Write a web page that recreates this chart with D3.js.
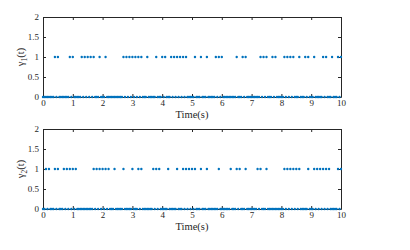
<!DOCTYPE html>
<html>
<head>
<script src="https://cdn.jsdelivr.net/npm/d3@7"></script>
<style>
body { margin: 0; padding: 0; background: #fff; }
text { font-family: "Liberation Serif", "Times New Roman", serif; fill: #262626; }
</style>
</head>
<body>
<svg></svg>
<script>
// sample grid: 0 .. 10 s, one sample every 0.05 s
var tStart = 0, tEnd = 10, sampleCount = 201;

// times (s) at which gamma_i(t) = 1; every other sample is 0
var gamma1Ones = [0.4, 0.5, 0.9, 1.0, 1.3, 1.4, 1.5, 1.6, 1.7, 1.9, 2.1, 2.7, 2.8, 2.9, 3.0,
  3.1, 3.2, 3.3, 3.5, 3.8, 4.0, 4.1, 4.3, 4.4, 4.5, 4.6, 4.7, 4.8, 5.1, 5.3, 5.5, 5.8, 5.9,
  6.0, 6.5, 6.7, 6.8, 7.3, 7.4, 7.5, 7.7, 7.8, 8.1, 8.2, 8.3, 8.4, 8.6, 8.8, 8.9, 9.1, 9.4,
  9.5, 9.7, 9.9, 10.0];
var gamma2Ones = [0.1, 0.2, 0.4, 0.5, 0.7, 0.8, 0.9, 1.0, 1.1, 1.7, 1.8, 1.9, 2.0, 2.1, 2.2,
  2.4, 2.7, 3.0, 3.2, 3.3, 3.7, 3.8, 3.9, 4.2, 4.5, 4.7, 4.8, 4.9, 5.0, 5.1, 5.3, 5.5, 5.9,
  6.3, 6.5, 6.6, 6.8, 7.2, 7.3, 7.5, 8.1, 8.2, 8.3, 8.4, 8.5, 8.6, 8.9, 9.1, 9.2, 9.3, 9.4,
  9.5, 9.6, 9.9, 10.0];

var xTicks = [0, 1, 2, 3, 4, 5, 6, 7, 8, 9, 10];
var yTicks = [0, 0.5, 1, 1.5, 2];
var yLabels = ['1', '2'];

var width = 410, height = 250;
var svg = d3.select('svg').attr('width', width).attr('height', height);

var panels = [
  { top: 17, ones: gamma1Ones, sub: yLabels[0] },
  { top: 129, ones: gamma2Ones, sub: yLabels[1] }
];
var left = 43, right = 341, ph = 80;
var times = d3.range(sampleCount).map(function(i) {
  return +(tStart + i * (tEnd - tStart) / (sampleCount - 1)).toFixed(2);
});

var x = d3.scaleLinear().domain([0, 10]).range([left, right]);

function styleAxis(a) {
  a.select('.domain').attr('stroke', '#262626');
  a.selectAll('line').attr('stroke', '#262626');
  a.selectAll('text').attr('font-size', 9).attr('fill', '#262626')
    .attr('font-family', '"Liberation Serif", serif');
}

panels.forEach(function(p) {
  var y = d3.scaleLinear().domain([0, 2]).range([p.top + ph, p.top]);
  var g = svg.append('g');
  var onesKey = p.ones.map(function(v) { return v.toFixed(2); });
  var pts = times.map(function(t) {
    return { t: t, v: onesKey.indexOf(t.toFixed(2)) > -1 ? 1 : 0 };
  });

  g.append('g')
    .attr('transform', 'translate(0,' + (p.top + ph) + ')')
    .call(d3.axisBottom(x).tickValues(xTicks).tickSizeInner(-3).tickSizeOuter(0).tickPadding(3))
    .call(styleAxis);
  g.append('g')
    .attr('transform', 'translate(0,' + p.top + ')')
    .call(d3.axisTop(x).tickValues(xTicks).tickSizeInner(-3).tickSizeOuter(0).tickFormat(''))
    .call(styleAxis);
  g.append('g')
    .attr('transform', 'translate(' + left + ',0)')
    .call(d3.axisLeft(y).tickValues(yTicks).tickSizeInner(-3).tickSizeOuter(0).tickPadding(4)
      .tickFormat(d3.format('')))
    .call(styleAxis);
  g.append('g')
    .attr('transform', 'translate(' + right + ',0)')
    .call(d3.axisRight(y).tickValues(yTicks).tickSizeInner(-3).tickSizeOuter(0).tickFormat(''))
    .call(styleAxis);

  g.append('g').selectAll('circle')
    .data(pts)
    .enter().append('circle')
    .attr('cx', function(d) { return x(d.t); })
    .attr('cy', function(d) { return y(d.v); })
    .attr('r', 1.2)
    .attr('fill', '#0072BD');

  g.append('text')
    .attr('x', (left + right) / 2)
    .attr('y', p.top + ph + 21)
    .attr('text-anchor', 'middle')
    .attr('font-size', 10.5)
    .text('Time(s)');

  var yl = g.append('text')
    .attr('transform', 'translate(24,' + (p.top + 40) + ') rotate(-90)')
    .attr('text-anchor', 'middle')
    .attr('font-size', 10.5);
  yl.append('tspan').text('\u03b3');
  yl.append('tspan').attr('font-size', 7.5).attr('dy', 2.5).text(p.sub);
  yl.append('tspan').attr('dy', -2.5).text('(t)');
});
</script>
</body>
</html>
